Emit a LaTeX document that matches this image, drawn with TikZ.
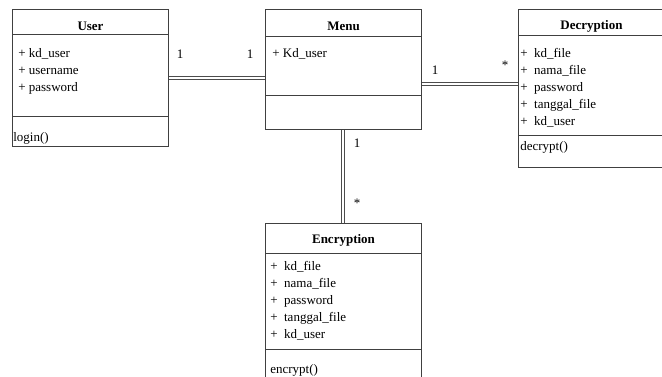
\documentclass[tikz,border=0pt]{standalone}
\usepackage{fontspec}
\setmainfont{Liberation Serif}
\usetikzlibrary{positioning}
\usetikzlibrary{calc}
\tikzstyle{classbox}=[draw=black!75,line width=0.8pt,rectangle,inner sep=0pt]

\begin{document}
\begin{tikzpicture}[x=1pt,y=1pt,font=\fontsize{13}{17}\selectfont]
\tikzstyle{classbox}=[draw=black!75,line width=0.8pt,rectangle,inner sep=0pt]
\tikzstyle{title}=[inner sep=0pt,anchor=base,font=\fontsize{13}{17}\selectfont\bfseries]
\tikzstyle{attr}=[inner sep=0pt,anchor=north west,align=left]
\tikzstyle{oper}=[inner sep=0pt,anchor=base west]
\tikzstyle{mult}=[inner sep=0pt]
\tikzstyle{sep}=[draw=black!75,line width=0.8pt]
\tikzstyle{assoc}=[draw=black!70,line width=0.8pt,double,double distance=2.2pt]
\useasboundingbox (0,0) rectangle (662,376);
% class boxes
\node [classbox,minimum width=156pt,minimum height=137pt] (user) at (90.5,298) {};
\node [classbox,minimum width=156pt,minimum height=120pt] (menu) at (343.5,306.5) {};
\node [classbox,minimum width=146pt,minimum height=158pt] (decr) at (591.5,287.5) {};
\node [classbox,minimum width=156pt,minimum height=158pt] (encr) at (343.5,73.5) {};
% compartments
\draw [sep] ($(user.north west)+(0,-25)$) -- ($(user.north east)+(0,-25)$);
\draw [sep] ($(user.north west)+(0,-107)$) -- ($(user.north east)+(0,-107)$);
\draw [sep] ($(menu.north west)+(0,-27)$) -- ($(menu.north east)+(0,-27)$);
\draw [sep] ($(menu.north west)+(0,-86)$) -- ($(menu.north east)+(0,-86)$);
\draw [sep] ($(decr.north west)+(0,-26)$) -- ($(decr.north east)+(0,-26)$);
\draw [sep] ($(decr.north west)+(0,-126)$) -- ($(decr.north east)+(0,-126)$);
\draw [sep] ($(encr.north west)+(0,-30)$) -- ($(encr.north east)+(0,-30)$);
\draw [sep] ($(encr.north west)+(0,-126)$) -- ($(encr.north east)+(0,-126)$);
% names
\node [title] (usertitle) at ($(user.north)+(0,-21)$) {User};
\node [title] (menutitle) at ($(menu.north)+(0,-21)$) {Menu};
\node [title] (decrtitle) at ($(decr.north)+(0,-20.5)$) {Decryption};
\node [title] (encrtitle) at ($(encr.north)+(0,-20)$) {Encryption};
% attributes
\node [attr] (userattr) at ($(user.north west)+(6,-39)$) {+ kd\_user\\+ username\\+ password};
\node [attr] (menuattr) at ($(menu.north west)+(7,-39)$) {+ Kd\_user};
\node [attr] (decrattr) at ($(decr.north west)+(2,-39)$) {+~~kd\_file\\+~~nama\_file\\+~~password\\+~~tanggal\_file\\+~~kd\_user};
\node [attr] (encrattr) at ($(encr.north west)+(5,-38)$) {+~~kd\_file\\+~~nama\_file\\+~~password\\+~~tanggal\_file\\+~~kd\_user};
% operations
\node [oper] (userop) at ($(user.north west)+(1,-132)$) {login()};
\node [oper] (decrop) at ($(decr.north west)+(2,-141)$) {decrypt()};
\node [oper] (encrop) at ($(encr.north west)+(5,-150)$) {encrypt()};
% associations
\coordinate (um) at (menu.west |- user.east);
\coordinate (md1) at ([yshift=-14.5pt]menu.east);
\coordinate (md2) at (md1 -| decr.west);
\coordinate (me1) at ([xshift=-0.5pt]menu.south);
\coordinate (me2) at ([xshift=-0.5pt]encr.north);
\draw [assoc] (user.east) -- (um);
\draw [assoc] (md1) -- (md2);
\draw [assoc] (me1) -- (me2);
% multiplicities
\node [mult] (m1) at (180,322) {1};
\node [mult] (m2) at (250,322) {1};
\node [mult] (m3) at (435,306) {1};
\node [mult] (m4) at (505,311) {*};
\node [mult] (m5) at (357,233) {1};
\node [mult] (m6) at (357,173) {*};
\end{tikzpicture}
\end{document}
